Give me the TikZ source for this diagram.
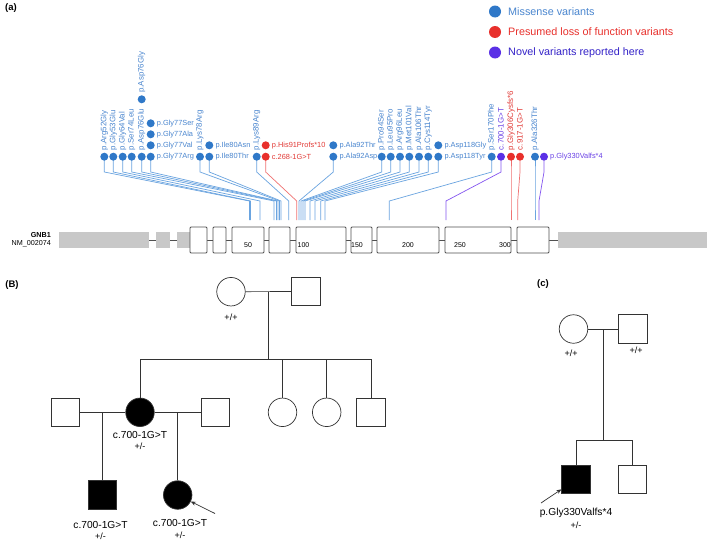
\documentclass[tikz,border=0pt]{standalone}
\usepackage{fontspec}
\setmainfont{Liberation Sans}
\usetikzlibrary{arrows.meta}
\definecolor{misblue}{HTML}{2F78C8}
\definecolor{mistext}{HTML}{4A86CF}
\definecolor{misline}{HTML}{6AA4E0}
\definecolor{lofred}{HTML}{E8302C}
\definecolor{loftext}{HTML}{E23A36}
\definecolor{lofline}{HTML}{F07272}
\definecolor{novpur}{HTML}{5A30E6}
\definecolor{novtext}{HTML}{6A42E6}
\definecolor{novline}{HTML}{8455F0}
\definecolor{novleg}{HTML}{3422C8}
\definecolor{utrgrey}{HTML}{C8C8C8}
\definecolor{exgrey}{HTML}{505050}
\definecolor{pedline}{HTML}{333333}
\begin{document}
\begin{tikzpicture}[x=1pt,y=-1pt,
  dotb/.style={circle,fill=misblue,inner sep=0pt,minimum size=8pt},
  dotr/.style={circle,fill=lofred,inner sep=0pt,minimum size=8pt},
  dotp/.style={circle,fill=novpur,inner sep=0pt,minimum size=8pt},
  vlab/.style={font=\fontsize{7.9}{9}\selectfont,inner sep=0pt,rotate=90,anchor=west},
  hlab/.style={font=\fontsize{7.4}{9}\selectfont,inner sep=0pt,anchor=west},
  legdot/.style={circle,inner sep=0pt,minimum size=12pt},
  leg/.style={font=\fontsize{10.8}{12}\selectfont,anchor=west,inner sep=0pt},
  exon/.style={draw=exgrey,line width=0.8pt,rounded corners=1pt,fill=white},
  utr/.style={fill=utrgrey},
  intr/.style={draw=exgrey,line width=0.8pt},
  bl/.style={draw=misline,line width=0.7pt},
  rl/.style={draw=lofline,line width=0.7pt},
  pl/.style={draw=novline,line width=0.7pt},
  ind/.style={draw=pedline,line width=0.7pt,inner sep=0pt,minimum size=28.5pt},
  fem/.style={ind,circle},
  mal/.style={ind,rectangle},
  aff/.style={fill=black},
  pline/.style={draw=pedline,line width=0.7pt},
  ptxt/.style={font=\fontsize{10.2}{12}\selectfont,inner sep=0pt},
  gtxt/.style={font=\fontsize{9}{10}\selectfont,inner sep=0pt},
  panel/.style={font=\bfseries\fontsize{9.5}{11}\selectfont,inner sep=0pt}]
\useasboundingbox (0,0) rectangle (709,546);
\fill[white] (0,0) rectangle (709,546);

% ---------- panel labels ----------
\node[panel] (pa) at (11,8) {(a)};
\node[panel] (pb) at (12,285) {(B)};
\node[panel] (pc) at (543,284) {(c)};

% ---------- legend ----------
\node[legdot,fill=misblue] (l1) at (495,11.5) {};
\node[leg,text=mistext] (lt1) at (508,11.5) {Missense variants};
\node[legdot,fill=lofred] (l2) at (495,32) {};
\node[leg,text=lofred] (lt2) at (508,32) {Presumed loss of function variants};
\node[legdot,fill=novpur] (l3) at (495,52.5) {};
\node[leg,text=novleg] (lt3) at (508,52.5) {Novel variants reported here};

% ---------- gene structure ----------
\node[font=\bfseries\fontsize{7.2}{8}\selectfont,anchor=east,inner sep=0pt] (gn) at (51,235.5) {GNB1};
\node[font=\fontsize{7.2}{8}\selectfont,anchor=east,inner sep=0pt] (nm) at (51,243.5) {NM\_002074};
\draw[intr] (149,240) -- (156,240) (170,240) -- (177,240)
  (207,240) -- (213,240) (226,240) -- (232,240) (264,240) -- (269,240)
  (290,240) -- (296,240) (346,240) -- (351,240) (372,240) -- (377,240)
  (439,240) -- (445,240) (511,240) -- (517,240) (549,240) -- (558,240);
\fill[utr] (59,232) rectangle (149,248);
\fill[utr] (156,232) rectangle (170,248);
\fill[utr] (177,232) rectangle (190,248);
\fill[utr] (558,232) rectangle (707,248);
\draw[exon] (190,227) rectangle (207,253);
\draw[exon] (213,227) rectangle (226,253);
\draw[exon] (232,227) rectangle (264,253);
\draw[exon] (269,227) rectangle (290,253);
\draw[exon] (296,227) rectangle (346,253);
\draw[exon] (351,227) rectangle (372,253);
\draw[exon] (377,227) rectangle (439,253);
\draw[exon] (445,227) rectangle (511,253);
\draw[exon] (517,227) rectangle (549,253);
\foreach \t/\x in {50/248,100/303.5,150/357,200/408,250/460,300/505}
  \node[font=\fontsize{7}{8}\selectfont,inner sep=0pt] (n\t) at (\x,245.5) {\t};

% ---------- variant columns ----------
\foreach \n/\x/\d/\l/\t in {
  1/104.3/dotb/bl/249.5, 2/113.3/dotb/bl/250.5, 3/122.7/dotb/bl/260,
  4/131.7/dotb/bl/274, 5/141.7/dotb/bl/276.5, 6/150.7/dotb/bl/278,
  7/200/dotb/bl/279.5, 8/209.3/dotb/bl/281, 9/256.7/dotb/bl/288.7,
  10/265.7/dotr/rl/296.7, 11/333.3/dotb/bl/299, 12/381.7/dotb/bl/301,
  13/390.7/dotb/bl/303, 14/400/dotb/bl/305, 15/409.3/dotb/bl/310,
  16/419/dotb/bl/315, 17/428.3/dotb/bl/320.7, 18/438.3/dotb/bl/325,
  19/491.7/dotb/bl/389.3, 20/501/dotp/pl/446, 21/511/dotr/rl/511,
  22/520/dotr/rl/517.7, 23/535/dotb/bl/535, 24/544/dotp/pl/539}{
  \coordinate (g\n) at (\t,220);
  \draw[\l] (\x,160) -- (\x,172) -- (g\n |- 0,201) -- (g\n);
  \node[\d] (v\n) at (\x,156.7) {};
}

% vertical labels
\foreach \n/\s in {1/p.Arg52Gly,2/p.Gly53Glu,3/p.Gly64Val,4/p.Ser74Leu,5/p.Asp76Glu,
  7/p.Lys78Arg,9/p.Lys89Arg,12/p.Pro94Ser,13/p.Leu95Pro,14/p.Arg96Leu,
  15/p.Met101Val,16/p.Ala106Thr,17/p.Cys114Tyr,19/p.Ser170Phe,23/p.Ala326Thr}
  \node[vlab,text=mistext] (vl\n) at ([yshift=6.5pt]v\n.center) {\s};
\node[vlab,text=novtext] (vl20) at ([yshift=6.5pt]v20.center) {c.700-1G>T};
\node[vlab,text=loftext] (vl21) at ([yshift=6.5pt]v21.center) {p.Gly306Cysfs*6};
\node[vlab,text=loftext] (vl22) at ([yshift=6.5pt]v22.center) {c.917-1G>T};

% extra dot Asp76Gly
\node[dotb] (v5b) at (141.7,99.3) {};
\node[vlab,text=mistext] (vl5b) at ([yshift=6.5pt]v5b.center) {p.Asp76Gly};

% Gly77 stack
\node[dotb] (v6a) at (150.7,123.3) {};
\node[dotb] (v6b) at (150.7,134.3) {};
\node[dotb] (v6c) at (150.7,145.3) {};
\node[hlab,text=mistext] (h6a) at ([xshift=6pt]v6a.center) {p.Gly77Ser};
\node[hlab,text=mistext] (h6b) at ([xshift=6pt]v6b.center) {p.Gly77Ala};
\node[hlab,text=mistext] (h6c) at ([xshift=6pt]v6c.center) {p.Gly77Val};
\node[hlab,text=mistext] (h6d) at ([xshift=6pt]v6.center) {p.Gly77Arg};

% Ile80
\node[dotb] (v8a) at (209.3,145.3) {};
\node[hlab,text=mistext] (h8a) at ([xshift=6pt]v8a.center) {p.Ile80Asn};
\node[hlab,text=mistext] (h8b) at ([xshift=6pt]v8.center) {p.Ile80Thr};

% His91 / c.268
\node[dotr] (v10a) at (265.7,145.3) {};
\node[hlab,text=loftext] (h10a) at ([xshift=6pt]v10a.center) {p.His91Profs*10};
\node[hlab,text=loftext] (h10b) at ([xshift=6pt]v10.center) {c.268-1G>T};

% Ala92
\node[dotb] (v11a) at (333.3,145.3) {};
\node[hlab,text=mistext] (h11a) at ([xshift=6pt]v11a.center) {p.Ala92Thr};
\node[hlab,text=mistext] (h11b) at ([xshift=6pt]v11.center) {p.Ala92Asp};

% Asp118
\node[dotb] (v18a) at (438.3,145.3) {};
\node[hlab,text=mistext] (h18a) at ([xshift=6pt]v18a.center) {p.Asp118Gly};
\node[hlab,text=mistext] (h18b) at ([xshift=6pt]v18.center) {p.Asp118Tyr};

% Gly330
\node[hlab,text=novtext] (h24) at ([xshift=6pt]v24.center) {p.Gly330Valfs*4};

% ---------- pedigree B ----------
\node[fem] (gm) at (231,291.7) {};
\node[mal] (gf) at (306,291.5) {};
\node[gtxt] (gmt) at (231,317) {+/+};
\draw[pline] (gm) -- (gf);
\coordinate (m1) at (268.3,291.6);
\coordinate (s1) at (268.3,359);
\draw[pline] (m1) -- (s1);

\node[fem,aff] (c1) at (140,412.3) {};
\node[fem] (c2) at (282.5,412.3) {};
\node[fem] (c3) at (326.7,412.3) {};
\node[mal] (c4) at (371,412.3) {};
\draw[pline] (c1 |- s1) -- (c4 |- s1);
\foreach \c in {c1,c2,c3,c4} \draw[pline] (\c |- s1) -- (\c.north);

\node[mal] (sp1) at (65.5,412.3) {};
\node[mal] (sp2) at (215.2,412.3) {};
\draw[pline] (sp1) -- (c1);
\draw[pline] (c1) -- (sp2);
\node[ptxt] (c1t) at (140,435) {c.700-1G>T};
\node[gtxt] (c1g) at (140,446.5) {+/-};

\node[mal,aff] (k1) at (102.3,495) {};
\node[fem,aff] (k2) at (177.7,495) {};
\coordinate (m2) at (102.3,412.3);
\coordinate (m3) at (177.7,412.3);
\draw[pline] (m2) -- (k1.north);
\draw[pline] (m3) -- (k2.north);
\node[ptxt] (k1t) at (100.5,525) {c.700-1G>T};
\node[gtxt] (k1g) at (100.5,536) {+/-};
\node[ptxt] (k2t) at (180,522.5) {c.700-1G>T};
\node[gtxt] (k2g) at (180,535) {+/-};
\coordinate (ar1) at (215,513.5);
\draw[pline,-{Stealth[length=5pt,width=4pt]}] (ar1) -- (k2);

% ---------- pedigree c ----------
\node[fem] (pm) at (573.5,329) {};
\node[mal] (pf) at (633,329) {};
\node[gtxt] (pmt) at (571,353) {+/+};
\node[gtxt] (pft) at (636,350.5) {+/+};
\draw[pline] (pm) -- (pf);
\coordinate (m4) at (603.5,329);
\coordinate (s4) at (603.5,440.5);
\draw[pline] (m4) -- (s4);
\node[mal,aff] (q1) at (576,479.5) {};
\node[mal] (q2) at (632.5,479.5) {};
\draw[pline] (q1 |- s4) -- (q2 |- s4);
\draw[pline] (q1 |- s4) -- (q1.north);
\draw[pline] (q2 |- s4) -- (q2.north);
\node[ptxt] (q1t) at (576,513) {p.Gly330Valfs*4};
\node[gtxt] (q1g) at (576,525.5) {+/-};
\coordinate (ar2) at (541,503);
\draw[pline,-{Stealth[length=5pt,width=4pt]}] (ar2) -- (q1);
\end{tikzpicture}
\end{document}
